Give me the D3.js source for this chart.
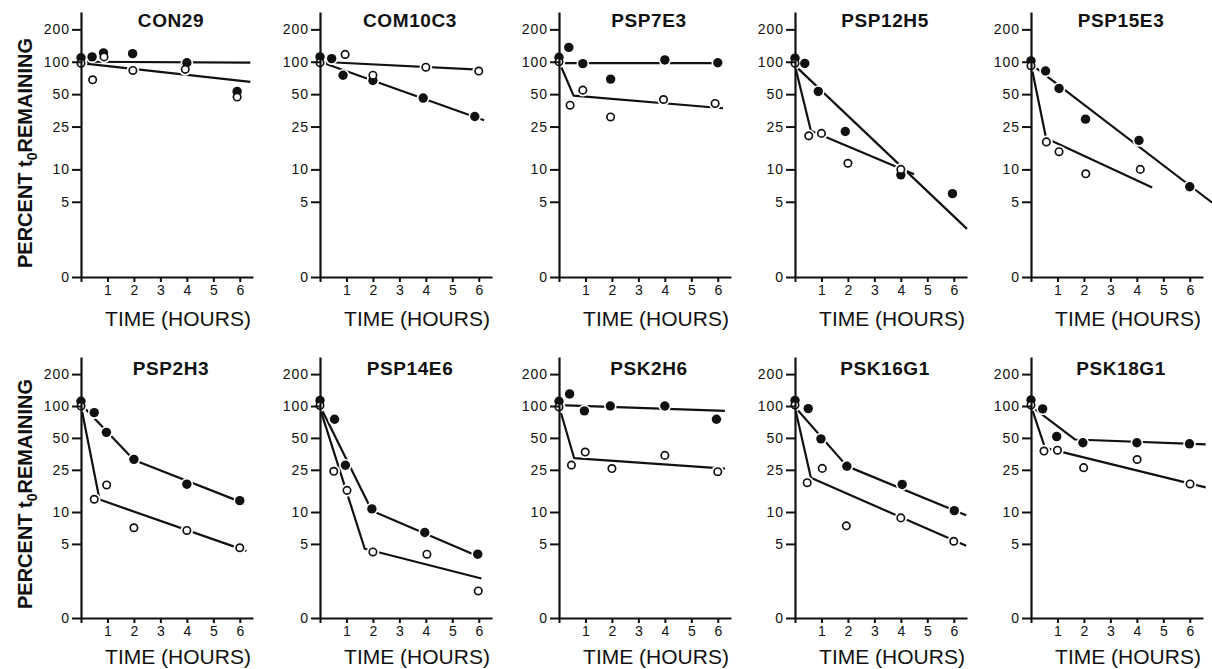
<!DOCTYPE html>
<html>
<head>
<meta charset="utf-8">
<script src="https://cdn.jsdelivr.net/npm/d3@7"></script>
<style>
  body { margin: 0; background: #fff; }
  svg { display: block; font-family: "Liberation Sans", Arial, sans-serif; }
</style>
</head>
<body>
<div id="chart"></div>
<script>
  // panel names, left to right, top row then bottom row
  const panels = ["CON29", "COM10C3", "PSP7E3", "PSP12H5", "PSP15E3",
                  "PSP2H3", "PSP14E6", "PSK2H6", "PSK16G1", "PSK18G1"];

  // filled circles: [hours, percent]
  const filledPts = [
    [[0, 109], [0.42, 111], [0.85, 121], [1.95, 119], [4, 98], [5.9, 53]],
    [[0, 111], [0.44, 107], [0.87, 75], [2, 67], [3.9, 46], [5.85, 31]],
    [[0, 110], [0.37, 136], [0.9, 96], [1.95, 69], [4, 104], [6, 98]],
    [[0, 108], [0.37, 96.5], [0.88, 53], [1.9, 22.5], [4, 8.9], [5.95, 5.95]],
    [[0, 102], [0.55, 82], [1.06, 56.5], [2.06, 29.3], [4.08, 18.6], [6, 6.9]],
    [[0, 111], [0.5, 86.7], [0.96, 56.4], [2, 31.4], [4, 18.3], [6, 12.8]],
    [[0, 113], [0.55, 75], [0.96, 27.6], [1.96, 10.7], [3.96, 6.4], [5.96, 4]],
    [[0, 111], [0.4, 130], [0.96, 90], [1.94, 100], [4, 100], [5.95, 75]],
    [[0, 113], [0.5, 94.5], [0.98, 49], [1.96, 27], [4.05, 18.2], [6.02, 10.3]],
    [[0, 114], [0.44, 94], [0.97, 51.5], [1.96, 45], [4, 45], [5.99, 44]]
  ];

  // open circles: [hours, percent]
  const openPts = [
    [[0, 97], [0.44, 68], [0.87, 111], [1.96, 83], [3.94, 85], [5.9, 47]],
    [[0, 98], [0.95, 117], [2, 75], [4, 89], [6, 82]],
    [[0, 100], [0.42, 39.5], [0.9, 54.5], [1.95, 30.7], [3.95, 44.6], [5.9, 41]],
    [[0, 97], [0.52, 20.5], [1, 21.6], [2, 11.4], [4, 10]],
    [[0, 92], [0.58, 18], [1.06, 14.6], [2.07, 9.1], [4.13, 10]],
    [[0, 100], [0.5, 13.2], [0.97, 18], [2, 7.1], [4, 6.7], [6, 4.6]],
    [[0, 101], [0.52, 24.2], [1.02, 16], [2, 4.2], [4.04, 4], [5.98, 1.8]],
    [[0, 98], [0.47, 27.7], [0.99, 36.8], [2, 25.7], [4, 34.2], [6, 24]],
    [[0, 102], [0.46, 18.9], [1.03, 25.8], [1.94, 7.4], [4, 8.8], [6, 5.3]],
    [[0, 102], [0.49, 37.6], [1, 38.3], [1.99, 26.2], [4.01, 31.3], [6.01, 18.4]]
  ];

  // fitted lines (break points) for the filled series
  const filledFit = [
    [[0, 100], [6.4, 98]],
    [[0, 100], [6.2, 28.6]],
    [[0, 97], [6.2, 97]],
    [[0, 92], [6.5, 2.8]],
    [[0, 95], [6.85, 4.9]],
    [[0, 104], [2, 31], [6.2, 12]],
    [[0, 100], [1.96, 10.3], [6.1, 3.7]],
    [[0, 102], [6.27, 90]],
    [[0, 98], [1.96, 27.1], [6.47, 9.3]],
    [[0, 100], [1.67, 48.3], [6.6, 43.4]]
  ];

  // fitted lines for the open series
  const openFit = [
    [[0, 97], [6.4, 65]],
    [[0, 100], [6.2, 84]],
    [[0, 100], [0.55, 48.5], [6.2, 37]],
    [[0, 92], [0.6, 22.8], [4.5, 9]],
    [[0, 95], [0.57, 19.5], [4.58, 6.8]],
    [[0, 100], [0.7, 13.1], [6.25, 4.3]],
    [[0, 95], [1.69, 4.5], [6.1, 2.36]],
    [[0, 100], [0.57, 32.3], [6.27, 25.7]],
    [[0, 96.5], [0.6, 21], [6.47, 4.8]],
    [[0, 100], [0.53, 40.3], [6.6, 17.1]]
  ];

  // tick values and labels ("0" sits at the bottom of the log axis)
  const yTicks = [200, 100, 50, 25, 10, 5, 1];
  const yTickLabels = ["200", "100", "50", "25", "10", "5", "0"];
  const xTicks = [0, 1, 2, 3, 4, 5, 6];
  const xTickLabels = ["", "1", "2", "3", "4", "5", "6"];

  // layout
  const width = 1212;
  const height = 669;
  const colX = [81, 320, 559, 795, 1031];
  const rowAxisY = [277, 618];
  const rowTopY = [12, 357];
  const rowTitleY = [27, 375];
  const rowTimeY = [326, 664];
  const ink = "#111";

  const svg = d3.select("#chart")
    .append("svg")
    .attr("width", width)
    .attr("height", height);

  svg.append("rect").attr("width", width).attr("height", height).attr("fill", "#fff");

  panels.forEach((name, i) => {
    const col = i % 5;
    const row = Math.floor(i / 5);

    const x = d3.scaleLinear().domain([0, 6.5]).range([0, 172]);
    const y = d3.scaleLog().domain([1, 290]).range([rowAxisY[row], rowTopY[row]]);

    const g = svg.append("g").attr("transform", `translate(${colX[col]}, 0)`);

    const line = d3.line().x(d => x(d[0])).y(d => y(d[1]));

    // fitted lines
    [filledFit[i], openFit[i]].forEach(fit => {
      g.append("path")
        .datum(fit)
        .attr("fill", "none")
        .attr("stroke", ink)
        .attr("stroke-width", 2.2)
        .attr("stroke-linejoin", "round")
        .attr("d", line);
    });

    // white halos so the lines break around the points
    const allPts = filledPts[i].concat(openPts[i]);
    g.selectAll("circle.halo")
      .data(allPts)
      .enter().append("circle")
        .attr("class", "halo")
        .attr("cx", d => x(d[0]))
        .attr("cy", d => y(d[1]))
        .attr("r", 6.3)
        .attr("fill", "#fff");

    g.selectAll("circle.filled")
      .data(filledPts[i])
      .enter().append("circle")
        .attr("class", "filled")
        .attr("cx", d => x(d[0]))
        .attr("cy", d => y(d[1]))
        .attr("r", 4.7)
        .attr("fill", ink);

    g.selectAll("circle.open")
      .data(openPts[i])
      .enter().append("circle")
        .attr("class", "open")
        .attr("cx", d => x(d[0]))
        .attr("cy", d => y(d[1]))
        .attr("r", 3.7)
        .attr("fill", "#fff")
        .attr("stroke", ink)
        .attr("stroke-width", 1.7);

    // y axis
    const yAxis = g.append("g")
      .call(d3.axisLeft(y)
        .tickValues(yTicks)
        .tickFormat((d, k) => yTickLabels[k])
        .tickSize(9)
        .tickPadding(2)
        .tickSizeOuter(0));

    // x axis
    const xAxis = g.append("g")
      .attr("transform", `translate(0, ${rowAxisY[row]})`)
      .call(d3.axisBottom(x)
        .tickValues(xTicks)
        .tickFormat((d, k) => xTickLabels[k])
        .tickSize(5)
        .tickPadding(3)
        .tickSizeOuter(0));

    [yAxis, xAxis].forEach(ax => {
      ax.select(".domain").attr("stroke", ink).attr("stroke-width", 2.2);
      ax.selectAll(".tick line").attr("stroke", ink).attr("stroke-width", 2);
      ax.selectAll("text")
        .attr("fill", ink)
        .style("font-family", "'Liberation Sans', Arial, sans-serif")
        .style("font-size", "14px");
    });
    yAxis.selectAll("text").style("letter-spacing", "1px");

    // panel title
    g.append("text")
      .attr("x", 90)
      .attr("y", rowTitleY[row])
      .attr("text-anchor", "middle")
      .attr("fill", ink)
      .style("font-size", "19px")
      .style("font-weight", "bold")
      .style("letter-spacing", "0.6px")
      .text(name);

    // x axis title
    g.append("text")
      .attr("x", 97)
      .attr("y", rowTimeY[row])
      .attr("text-anchor", "middle")
      .attr("fill", ink)
      .style("font-size", "21px")
      .text("TIME (HOURS)");

    // y axis title, first column only
    if (col === 0) {
      const t = svg.append("text")
        .attr("transform", `translate(32, ${rowAxisY[row] - 124}) rotate(-90)`)
        .attr("text-anchor", "middle")
        .attr("fill", ink)
        .style("font-size", "20px")
        .style("font-weight", "bold");
      t.append("tspan").text("PERCENT t");
      t.append("tspan").attr("dy", 5).style("font-size", "14px").text("0");
      t.append("tspan").attr("dy", -5).text("REMAINING");
    }
  });
</script>
</body>
</html>
